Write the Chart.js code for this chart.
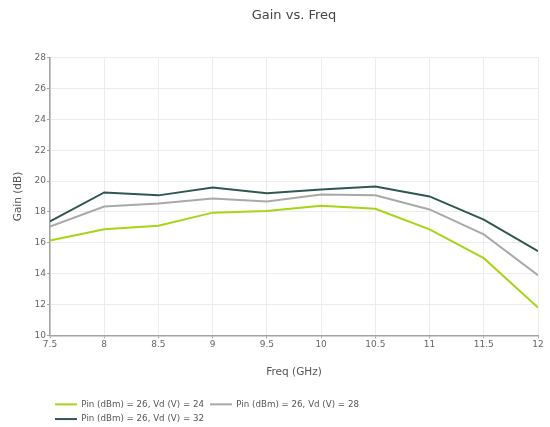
<!DOCTYPE html>
<html>
<head>
<meta charset="utf-8">
<script src="https://cdn.jsdelivr.net/npm/chart.js@4/dist/chart.umd.min.js"></script>
<style>
  html, body { margin: 0; padding: 0; background: #ffffff; }
  #wrap { position: relative; width: 550px; height: 427px; }
</style>
</head>
<body>
<div id="wrap"><canvas id="chart" width="550" height="427"></canvas></div>
<script>
// Frequency points (GHz)
const freqs = [7.5, 8, 8.5, 9, 9.5, 10, 10.5, 11, 11.5, 12];

// Gain (dB) for each drain voltage
const gainVd24 = [16.15, 16.87, 17.1, 17.95, 18.05, 18.4, 18.2, 16.87, 15.0, 11.8];
const gainVd28 = [17.05, 18.35, 18.55, 18.87, 18.68, 19.13, 19.07, 18.16, 16.54, 13.9];
const gainVd32 = [17.38, 19.26, 19.07, 19.58, 19.2, 19.45, 19.65, 19.0, 17.5, 15.45];

const seriesNames = [
  'Pin (dBm) = 26, Vd (V) = 24',
  'Pin (dBm) = 26, Vd (V) = 28',
  'Pin (dBm) = 26, Vd (V) = 32'
];
const seriesColors = ['#a6d516', '#a9a9a9', '#2f5853'];

// Axis tick values
const xTicks = [7.5, 8, 8.5, 9, 9.5, 10, 10.5, 11, 11.5, 12];
const yTicks = [10, 12, 14, 16, 18, 20, 22, 24, 26, 28];

const FONT = "'DejaVu Sans', Verdana, sans-serif";
const seriesValues = [gainVd24, gainVd28, gainVd32];

const datasets = seriesValues.map((vals, i) => ({
  label: seriesNames[i],
  data: freqs.map((f, j) => ({ x: f, y: vals[j] })),
  borderColor: seriesColors[i],
  backgroundColor: seriesColors[i],
  borderWidth: 2,
  pointRadius: 0,
  tension: 0,
  fill: false
}));

// Legend block: two rows under the plot, starting near its left edge
const legendPlacement = {
  id: 'legendPlacement',
  afterLayout(chart) {
    const lg = chart.legend;
    if (!lg) return;
    lg.left = 49;
    lg.right = 500;
    lg.top = 394;
    lg.bottom = 427;
    lg.width = lg.right - lg.left;
    lg.height = lg.bottom - lg.top;
  }
};

const axisGray = '#a3a3a3';
const gridGray = '#ececec';
const tickText = '#666666';

new Chart(document.getElementById('chart'), {
  type: 'line',
  data: { datasets },
  plugins: [legendPlacement],
  options: {
    responsive: false,
    animation: false,
    layout: { padding: { left: 0, right: 12, top: 0, bottom: 22 } },
    plugins: {
      title: {
        display: true,
        fullSize: false,
        text: 'Gain vs. Freq',
        color: '#444444',
        font: { family: FONT, size: 13, weight: 'normal' },
        padding: { top: 8, bottom: 34 }
      },
      legend: {
        display: true,
        position: 'bottom',
        align: 'start',
        labels: {
          color: '#555555',
          font: { family: FONT, size: 8.7 },
          boxWidth: 22,
          boxHeight: 2,
          padding: 6,
          generateLabels(chart) {
            return chart.data.datasets.map((ds, i) => ({
              text: ds.label,
              fillStyle: ds.borderColor,
              strokeStyle: ds.borderColor,
              lineWidth: 0,
              fontColor: '#555555',
              hidden: false,
              datasetIndex: i
            }));
          }
        }
      },
      tooltip: { enabled: false }
    },
    scales: {
      x: {
        type: 'linear',
        min: xTicks[0],
        max: xTicks[xTicks.length - 1],
        afterBuildTicks(scale) { scale.ticks = xTicks.map(v => ({ value: v })); },
        afterFit(scale) { scale.height = 45; },
        ticks: {
          color: tickText,
          font: { family: FONT, size: 9 },
          padding: 1,
          maxRotation: 0,
          autoSkip: false,
          callback: v => String(v)
        },
        grid: { color: gridGray, lineWidth: 1, tickLength: 3, tickColor: axisGray },
        border: { color: axisGray, width: 1.5 },
        title: {
          display: true,
          text: 'Freq (GHz)',
          color: '#555555',
          font: { family: FONT, size: 10.5 },
          padding: { top: 0, bottom: 2 }
        }
      },
      y: {
        type: 'linear',
        min: yTicks[0],
        max: yTicks[yTicks.length - 1],
        afterBuildTicks(scale) { scale.ticks = yTicks.map(v => ({ value: v })); },
        afterFit(scale) { scale.width = 50; },
        ticks: {
          color: tickText,
          font: { family: FONT, size: 9 },
          padding: 1,
          autoSkip: false,
          callback: v => String(v)
        },
        grid: { color: gridGray, lineWidth: 1, tickLength: 3, tickColor: axisGray },
        border: { color: axisGray, width: 1.5 },
        title: {
          display: true,
          text: 'Gain (dB)',
          color: '#555555',
          font: { family: FONT, size: 10.5 },
          padding: { top: 12, bottom: 0 }
        }
      }
    }
  }
});
</script>
</body>
</html>
